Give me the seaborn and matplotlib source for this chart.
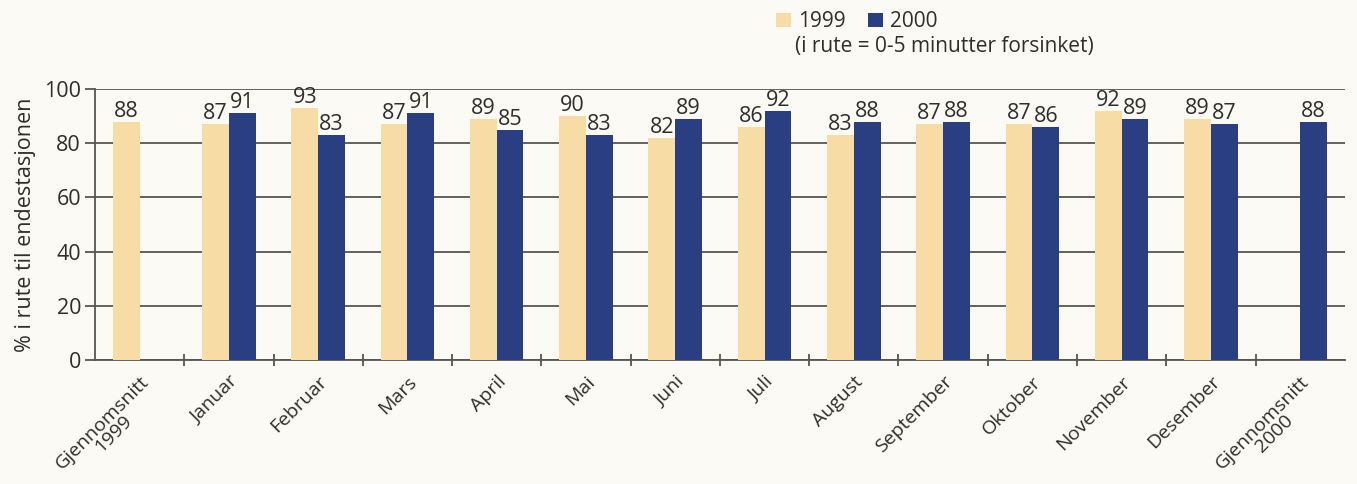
import numpy as np
import pandas as pd
import matplotlib
matplotlib.use("Agg")
import matplotlib.pyplot as plt
import seaborn as sns
from matplotlib.patches import Patch
from matplotlib.ticker import FixedLocator

categories = ["Gjennomsnitt\n1999", "Januar", "Februar", "Mars", "April", "Mai", "Juni",
              "Juli", "August", "September", "Oktober", "November", "Desember",
              "Gjennomsnitt\n2000"]
vals_1999 = [88, 87, 93, 87, 89, 90, 82, 86, 83, 87, 87, 92, 89, np.nan]
vals_2000 = [np.nan, 91, 83, 91, 85, 83, 89, 92, 88, 88, 86, 89, 87, 88]
years = ["1999", "2000"]
y_ticks = [0, 20, 40, 60, 80, 100]

BG = "#fcfaf4"
C1999 = "#f8dca6"
C2000 = "#2a3f82"
TXT = "#2e2e2e"
GRID = "#555555"

df = pd.DataFrame({
    "kategori": categories * 2,
    "år": [years[0]] * len(categories) + [years[1]] * len(categories),
    "verdi": vals_1999 + vals_2000,
}).dropna()

sns.set_theme(style="white")
plt.rcParams["font.family"] = ["Open Sans", "DejaVu Sans"]

fig = plt.figure(figsize=(13.57, 4.84), dpi=100, facecolor=BG)
ax = fig.add_axes([0.070, 0.256, 0.921, 0.560], facecolor=BG)

sns.barplot(data=df, x="kategori", y="verdi", hue="år", order=categories,
            hue_order=years, palette=[C1999, C2000], width=0.6, saturation=1,
            dodge=True, legend=False, ax=ax, zorder=3, linewidth=0,
            edgecolor="none")

for cont in ax.containers:
    ax.bar_label(cont, fmt="%.0f", padding=0, fontsize=15.5, color=TXT)

ax.set_ylim(0, 100)
ax.set_xlim(-0.5, len(categories) - 0.5)
ax.set_yticks(y_ticks)
ax.yaxis.grid(True, color=GRID, linewidth=1.3, zorder=0)
ax.set_axisbelow(True)
for s in ["top", "right"]:
    ax.spines[s].set_visible(False)
for s in ["left", "bottom"]:
    ax.spines[s].set_color(GRID)
    ax.spines[s].set_linewidth(1.3)

ax.set_xlabel("")
ax.set_ylabel("% i rute til endestasjonen", fontsize=15.5, color=TXT, labelpad=6)
ax.tick_params(axis="y", left=True, length=7, width=1.3, color=GRID,
               labelsize=15.5, labelcolor=TXT, pad=3)
ax.tick_params(axis="x", which="major", bottom=False, labelsize=14,
               labelcolor=TXT, pad=3)
ax.xaxis.set_minor_locator(FixedLocator(np.arange(0.5, len(categories) - 1, 1.0)))
ax.tick_params(axis="x", which="minor", bottom=True, direction="inout",
               length=8, width=1.3, color=GRID)
ax.set_xticks(range(len(categories)))
ax.set_xticklabels(categories, rotation=45, ha="right", rotation_mode="anchor",
                   multialignment="center", linespacing=0.85)

handles = [Patch(facecolor=C1999, edgecolor="none"),
           Patch(facecolor=C2000, edgecolor="none")]
fig.legend(handles, years, loc="upper left", bbox_to_anchor=(0.558, 1.015),
           ncol=2, frameon=False, fontsize=15, handlelength=0.7,
           handleheight=0.7, handletextpad=0.35, columnspacing=1.1,
           labelcolor=TXT)
fig.text(0.586, 0.903, "(i rute = 0-5 minutter forsinket)", fontsize=15,
         color=TXT, ha="left", va="center")

fig.savefig("out.png", dpi=100, facecolor=BG)
